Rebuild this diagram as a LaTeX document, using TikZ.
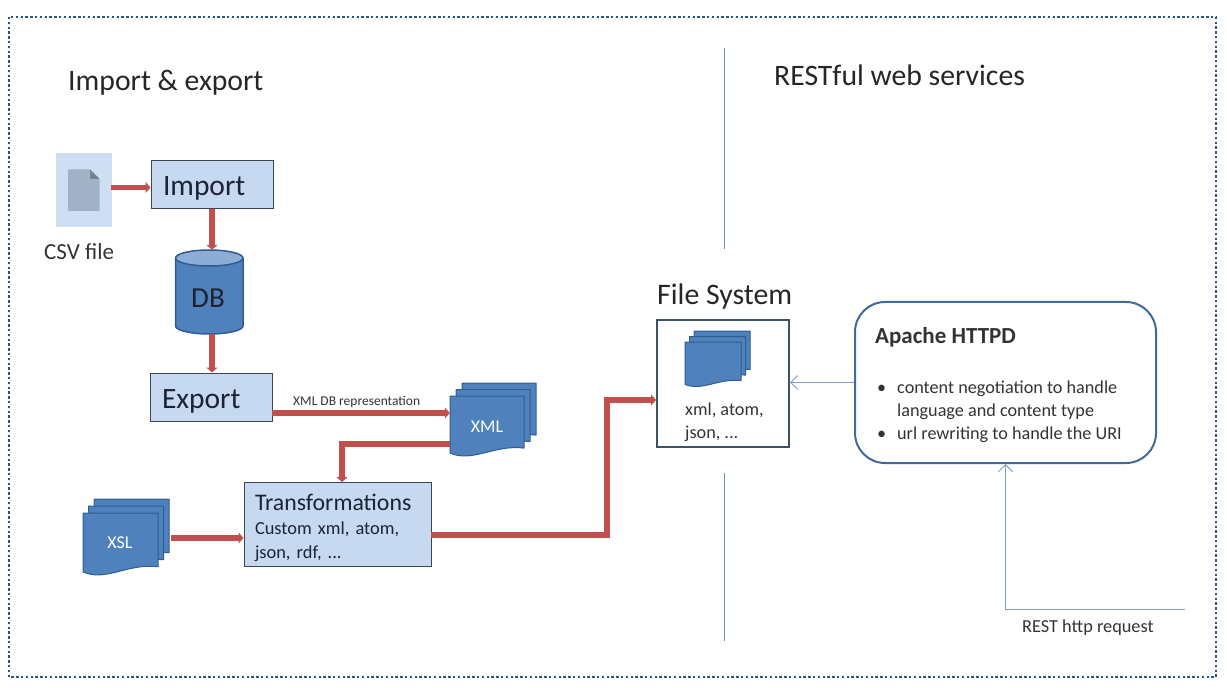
\documentclass[tikz,border=0pt]{standalone}
\usepackage{fontspec}
\setmainfont{Carlito}
\usetikzlibrary{arrows.meta}
\definecolor{boxfill}{HTML}{C6D9F1}
\definecolor{boxline}{HTML}{3A4652}
\definecolor{flowred}{HTML}{C0504D}
\definecolor{docblue}{HTML}{4F81BD}
\definecolor{docline}{HTML}{2F5D8F}
\definecolor{thinblue}{HTML}{7F9FC0}
\definecolor{rulegrey}{HTML}{6F93AB}
\definecolor{inktext}{HTML}{1C2333}
\tikzset{
	title/.style={font=\fontsize{29.7}{34}\selectfont, text=black!85, inner sep=0, anchor=west},
	boxnode/.style={draw=boxline, line width=1pt, fill=boxfill, inner xsep=12pt, inner ysep=0, align=left, text=inktext},
	bigbox/.style={boxnode, font=\fontsize{29.5}{34}\selectfont, minimum width=122pt, minimum height=48pt, text width=98pt, text height=28pt, text depth=6pt},
	flow/.style={draw=flowred, line width=5.5pt, -{Triangle[length=5pt,width=11pt]}},
	thin flow/.style={draw=thinblue, line width=1pt, -{Straight Barb[length=7pt,width=14pt]}},
	doc/.style={draw=docline, line width=1pt, fill=docblue, line join=round},
	small/.style={font=\fontsize{18.2}{23}\selectfont, text=black!80, inner sep=0, anchor=west, align=left}
}
% one wavy page: corner x,y then width,height
\def\docpage(#1,#2)(#3,#4){\draw[doc] (#1,#2) -- ({#1+#3},#2) -- ({#1+#3},{#2+0.84*#4}) .. controls ({#1+0.6*#3},{#2+0.78*#4}) and ({#1+0.3*#3},{#2+1.08*#4}) .. (#1,{#2+0.92*#4}) -- cycle;}
\def\docstack(#1,#2)(#3,#4)(#5,#6){
	\docpage({#1+2*#5},{#2-2*#6})(#3,#4)
	\docpage({#1+#5},{#2-#6})(#3,#4)
	\docpage(#1,#2)(#3,#4)
}

\begin{document}
\begin{tikzpicture}[x=1pt,y=-1pt]
	%%%%% START %%%%%
	\useasboundingbox (0,0) rectangle (1227,695);
	\draw[color=docline!90!black, line width=2.4pt, dash pattern=on 2.4pt off 2.4pt] (9,17) rectangle (1216,677);

	\draw[color=rulegrey, line width=1pt] (724,48) -- (724,249);
	\draw[color=rulegrey, line width=1pt] (724,473) -- (724,641);

	\node[title] (importtitle) at (68,83) {Import \& export};
	\node[title] (resttitle) at (774,75) {RESTful web services};
	\node[title, font=\fontsize{29.8}{34}\selectfont] (fstitle) at (657,297) {File System};

	% csv icon
	\node[fill=boxfill!85!white, minimum width=56pt, minimum height=74pt, inner sep=0] (csv) at (84,190) {};
	\draw[fill=black!18!boxfill, draw=none] (68,169.5) -- (90,169.5) -- (99.5,179) -- (99.5,211) -- (68,211) -- cycle;
	\draw[fill=black!40!boxfill, draw=none] (90,169.5) -- (99.5,179) -- (90,179) -- cycle;
	\node[small, font=\fontsize{23}{26}\selectfont] (csvlabel) at (44,252) {CSV file};

	\node[bigbox] (import) at (212,185) {Import};
	\node[bigbox] (export) at (211,397) {Export};

	% db cylinder
	\draw[doc, line width=1.5pt] (175.5,258) -- (175.5,326) arc[start angle=180, end angle=360, x radius=33.75pt, y radius=8pt] -- (243,258) -- cycle;
	\draw[doc, line width=1.5pt, fill=docblue!65!white] (209.25,258) ellipse[x radius=33.75pt, y radius=8pt];
	\node[text=inktext, font=\fontsize{29}{34}\selectfont, inner sep=0, minimum width=67.5pt, minimum height=84pt] (db) at (209.25,292) {};
	\node[text=inktext, font=\fontsize{29}{34}\selectfont, inner sep=0] (dblabel) at (208,298) {DB};

	% document stacks
	\docstack(450,396)(74,62)(6,6.5)
	\node[font=\fontsize{18}{22}\selectfont, text=white, inner sep=0, minimum width=74pt, minimum height=62pt] (xml) at (487,427) {XML};
	\docstack(83,513)(75,64)(5.5,7)
	\node[font=\fontsize{18}{22}\selectfont, text=white, inner sep=0, minimum width=75pt, minimum height=60pt] (xsl) at (120,543) {XSL};

	\node[boxnode, inner xsep=11pt, font=\fontsize{18.4}{24}\selectfont, minimum width=187pt, minimum height=84pt, text width=165pt, text height=24pt] (trans) at (337.5,524)
		{{\fontsize{23.8}{24}\selectfont Transformations}\\Custom xml, atom,\\json, rdf, ...};

	\node[draw=boxline!80!docblue, line width=2pt, minimum width=132pt, minimum height=127pt, inner sep=0] (fs) at (723,383.5) {};
	\docstack(685,342)(56,46)(4.5,5.5)
	\node[small] (fstext) at (685,422) {xml, atom,\\json, ...};

	\node[draw=docline!80!thinblue, line width=2pt, rounded corners=30pt, minimum width=301pt, minimum height=161pt, inner sep=0] (apache) at (1005.5,382.5) {};
	\node[small, font=\bfseries\fontsize{23}{26}\selectfont] (apachetitle) at (875,337) {Apache HTTPD};
	\node[small] (apachetext) at (877,412) {\makebox[20pt][l]{\textbullet}content negotiation to handle\\\makebox[20pt][l]{}language and content type\\\makebox[20pt][l]{\textbullet}url rewriting to handle the URI};

	\node[small, font=\fontsize{13.5}{15}\selectfont] (xmllabel) at (293,402) {XML DB representation};
	\node[small, font=\fontsize{18.3}{20}\selectfont] (restlabel) at (1022,628) {REST http request};

	% connectors
	\coordinate (csvout) at (111,187.5);
	\coordinate (exportout) at (272,413);
	\coordinate (xmlout) at (450,444);
	\coordinate (transin) at (342,482);
	\coordinate (xslout) at (171,538);
	\coordinate (transout) at (431,535);
	\coordinate (fsbend) at (607,400);
	\coordinate (resttail) at (1185,609);

	\draw[flow] (csvout) -- (csvout -| import.west);
	\draw[flow] (import.south) -- (import.south |- db.north);
	\draw[flow] (db.south -| import.south) -- (import.south |- export.north);
	\draw[flow] (exportout) -- (exportout -| xml.west);
	\draw[flow] (xmlout) -| (transin);
	\draw[flow] (xslout) -- (xslout -| trans.west);
	\draw[flow] (transout) -| (fsbend) -- (fsbend -| fs.west);
	\draw[thin flow] (apache.west) -- (apache.west -| fs.east);
	\draw[thin flow] (resttail) -| (apache.south);
	%%%%% END %%%%%
\end{tikzpicture}
\end{document}
